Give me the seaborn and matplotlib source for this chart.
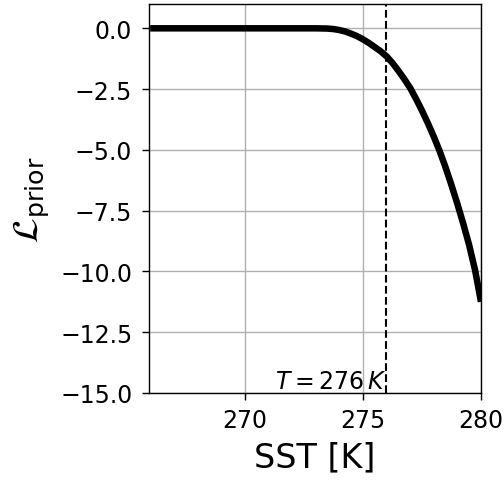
import matplotlib
matplotlib.use("Agg")
import matplotlib.pyplot as plt
import seaborn as sns
import pandas as pd

# Prior log-likelihood as a function of sea surface temperature
sst = [266, 273.0, 273.5, 273.75, 274.0, 274.25, 274.5, 274.75, 275.0,
       275.25, 275.5, 275.75, 276.0, 276.25, 276.5, 276.75, 277.0, 277.25,
       277.5, 277.75, 278.0, 278.25, 278.5, 278.75, 279.0, 279.25, 279.5,
       279.75, 280.0]
l_prior = [0.0, 0.0, -0.01, -0.03, -0.07, -0.13, -0.22, -0.32, -0.45,
           -0.6, -0.77, -0.94, -1.15, -1.42, -1.74, -2.08, -2.45, -2.9,
           -3.38, -3.9, -4.45, -5.05, -5.72, -6.45, -7.22, -8.04, -8.92,
           -9.95, -11.25]
threshold = 276
x_ticks = [270, 275, 280]
y_ticks = [0.0, -2.5, -5.0, -7.5, -10.0, -12.5, -15.0]

sns.set_style("ticks", {"axes.grid": True, "grid.color": "#b0b0b0",
                        "axes.edgecolor": "black", "text.color": "black",
                        "axes.labelcolor": "black", "xtick.color": "black",
                        "ytick.color": "black"})
plt.rcParams["font.family"] = ["DejaVu Sans"]
plt.rcParams["mathtext.fontset"] = "dejavusans"

df = pd.DataFrame({"SST": sst, "L": l_prior})

fig = plt.figure(figsize=(5.04, 4.81), dpi=100)
ax = fig.add_axes([149 / 504, 1 - 394 / 481, 332 / 504, 389 / 481])

sns.lineplot(data=df, x="SST", y="L", ax=ax, color="black", linewidth=4.7,
             solid_joinstyle="round", solid_capstyle="butt")
ax.axvline(threshold, color="black", linestyle="--", linewidth=1.5)
ax.text(threshold, -15, r"$T = 276\,K$", ha="right", va="bottom",
        fontsize=17, color="black")

ax.set_xlim(265.95, 280)
ax.set_ylim(-15, 1)
ax.set_xticks(x_ticks)
ax.set_yticks(y_ticks)
ax.tick_params(labelsize=17, length=5, width=1, color="black",
               labelcolor="black")
ax.tick_params(axis="y", pad=7)
ax.tick_params(axis="x", pad=6)
ax.grid(True, color="#b0b0b0", linewidth=1)
for s in ax.spines.values():
    s.set_linewidth(1.0)
    s.set_color("black")

ax.set_xlabel("SST [K]", fontsize=24, color="black", labelpad=6)
ax.set_ylabel(r"$\mathcal{L}_{\rm prior}$", fontsize=26, color="black",
              labelpad=6)

fig.savefig("out.png", dpi=100)
